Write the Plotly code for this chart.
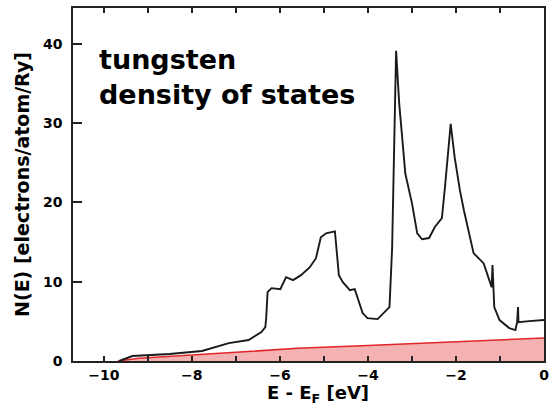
import plotly.graph_objects as go

# Total density of states (black curve)
energy = [-9.65, -9.35, -8.51, -7.77, -7.16, -6.71, -6.42, -6.33, -6.31, -6.28, -6.19,
          -5.99, -5.86, -5.70, -5.52, -5.32, -5.18, -5.07, -4.95, -4.75, -4.66, -4.57,
          -4.41, -4.30, -4.12, -4.01, -3.78, -3.63, -3.51, -3.45, -3.36, -3.29, -3.15,
          -3.00, -2.88, -2.77, -2.61, -2.48, -2.32, -2.25, -2.16, -2.12, -2.03, -1.91,
          -1.82, -1.60, -1.37, -1.24, -1.19, -1.17, -1.15, -1.13, -1.01, -0.79, -0.65,
          -0.61, -0.59, -0.58, -0.34, 0.0]
dos = [0.0, 0.63, 0.88, 1.26, 2.26, 2.64, 3.65, 4.28, 5.53, 8.68, 9.18,
       9.06, 10.57, 10.19, 10.82, 11.82, 12.96, 15.6, 16.1, 16.35, 10.82, 9.94,
       8.93, 9.06, 6.04, 5.41, 5.28, 6.16, 6.79, 14.3, 39.1, 32.5, 23.6,
       19.9, 16.1, 15.35, 15.5, 16.9, 18.0, 21.9, 27.4, 29.9, 25.7, 21.5,
       19.0, 13.6, 12.3, 10.2, 9.31, 12.1, 9.31, 6.79, 5.16, 4.15, 3.9,
       4.9, 6.8, 4.9, 5.03, 5.16]

# Free-electron-like contribution (red shaded)
fe_energy = [-9.68, -9.2, -8.0, -6.5, -5.6, -4.0, -2.6, -1.0, 0.0]
fe_dos = [0.0, 0.35, 0.75, 1.3, 1.6, 1.95, 2.26, 2.65, 2.9]

x_ticks = [-10, -8, -6, -4, -2, 0]
x_minor_ticks = [-9, -7, -5, -3, -1]
y_ticks = [0, 10, 20, 30, 40]

FONT = "DejaVu Sans"

fig = go.Figure()
fig.add_trace(go.Scatter(
    x=fe_energy, y=fe_dos, mode="lines", fill="tozeroy",
    line=dict(color="#e0262a", width=1.6),
    fillcolor="rgba(236,115,115,0.55)", hoverinfo="skip", showlegend=False))
fig.add_trace(go.Scatter(
    x=energy, y=dos, mode="lines",
    line=dict(color="#1a1a1a", width=1.9),
    showlegend=False))

fig.update_layout(
    width=555, height=406,
    margin=dict(l=73, r=6, t=7, b=45),
    paper_bgcolor="white", plot_bgcolor="white",
    font=dict(family=FONT, color="black"),
    xaxis=dict(
        range=[-10.7, 0.0], tickvals=x_ticks,
        ticks="inside", ticklen=5, tickwidth=1.5, tickcolor="#222",
        minor=dict(tickvals=x_minor_ticks, ticks="inside", ticklen=5,
                   tickwidth=1.5, tickcolor="#222", showgrid=False),
        showline=True, linecolor="#222", linewidth=1.5, mirror="ticks",
        showgrid=False, zeroline=False, ticklabelstandoff=0,
        tickfont=dict(family=FONT, size=14, weight="bold"),
    ),
    yaxis=dict(
        range=[0, 44.5], tickvals=y_ticks,
        ticks="inside", ticklen=9, tickwidth=1.5, tickcolor="#222",
        showline=True, linecolor="#222", linewidth=1.5, mirror=True,
        showgrid=False, zeroline=False, ticklabelstandoff=6,
        tickfont=dict(family=FONT, size=14, weight="bold"),
        title=dict(text="N(E) [electrons/atom/Ry]", standoff=8,
                   font=dict(family=FONT, size=19, weight="bold")),
    ),
    annotations=[
        dict(text="tungsten<br>density of states", xref="paper", yref="paper",
             x=0.05, y=0.905, xanchor="left", yanchor="top", align="left",
             showarrow=False,
             font=dict(family=FONT, size=27, weight="bold", color="black")),
        dict(text="E - E<sub>F</sub> [eV]", xref="paper", yref="paper",
             x=0.521, y=-0.058, xanchor="center", yanchor="top",
             showarrow=False, borderpad=0,
             font=dict(family=FONT, size=18, weight="bold", color="black")),
    ],
)

fig.write_html("out.html")
